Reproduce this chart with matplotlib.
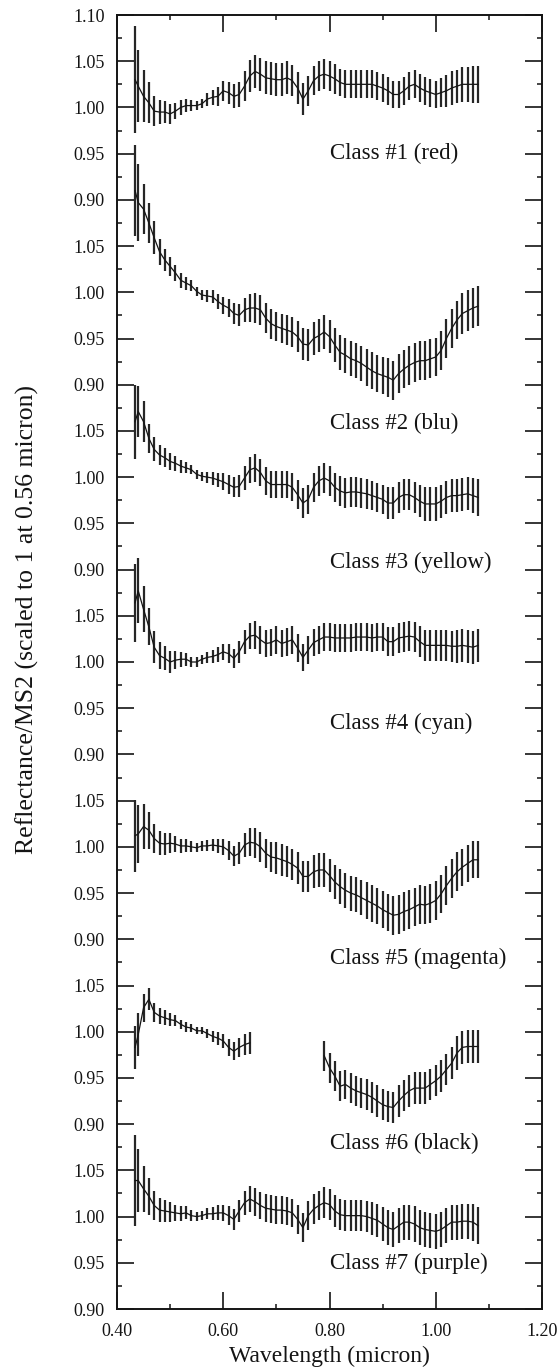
import numpy as np
import matplotlib
matplotlib.use("Agg")
import matplotlib.pyplot as plt
from matplotlib.ticker import MultipleLocator, FixedLocator, FixedFormatter, FormatStrFormatter

plt.rcParams['font.family'] = ['Liberation Serif', 'DejaVu Serif']

# ---------------- data ----------------
WAVELENGTH = [0.434, 0.44, 0.45, 0.46, 0.47, 0.48, 0.49, 0.50, 0.51, 0.52, 0.53,
              0.54, 0.55, 0.56, 0.57, 0.58, 0.59, 0.60, 0.61, 0.62, 0.63, 0.64,
              0.65, 0.66, 0.67, 0.68, 0.69, 0.70, 0.71, 0.72, 0.73, 0.74, 0.75,
              0.76, 0.77, 0.78, 0.79, 0.80, 0.81, 0.82, 0.83, 0.84, 0.85, 0.86,
              0.87, 0.88, 0.89, 0.90, 0.91, 0.92, 0.93, 0.94, 0.95, 0.96, 0.97,
              0.98, 0.99, 1.00, 1.01, 1.02, 1.03, 1.04, 1.05, 1.06, 1.07, 1.08]

CLASS1 = [1.030, 1.023, 1.012, 1.005, 0.996, 0.995, 0.995, 0.993, 0.996, 1.000, 1.002,
          1.002, 1.002, 1.004, 1.009, 1.011, 1.012, 1.018, 1.016, 1.012, 1.014, 1.023,
          1.034, 1.039, 1.036, 1.032, 1.031, 1.030, 1.030, 1.032, 1.029, 1.021, 1.009,
          1.018, 1.029, 1.034, 1.036, 1.034, 1.031, 1.027, 1.025, 1.025, 1.025, 1.025,
          1.025, 1.025, 1.023, 1.021, 1.018, 1.014, 1.014, 1.018, 1.023, 1.025, 1.021,
          1.018, 1.016, 1.014, 1.016, 1.018, 1.021, 1.023, 1.025, 1.025, 1.025, 1.025]
ERR1 = [0.058, 0.039, 0.028, 0.022, 0.016, 0.013, 0.012, 0.011, 0.009, 0.008, 0.007,
        0.006, 0.005, 0.005, 0.007, 0.008, 0.010, 0.011, 0.012, 0.013, 0.014, 0.016,
        0.017, 0.018, 0.018, 0.018, 0.018, 0.018, 0.018, 0.018, 0.017, 0.017, 0.017,
        0.016, 0.016, 0.016, 0.016, 0.016, 0.016, 0.015, 0.015, 0.015, 0.015, 0.015,
        0.015, 0.015, 0.015, 0.015, 0.015, 0.015, 0.015, 0.015, 0.015, 0.015, 0.015,
        0.015, 0.015, 0.015, 0.016, 0.017, 0.018, 0.018, 0.019, 0.019, 0.020, 0.020]

CLASS2 = [1.110, 1.097, 1.090, 1.075, 1.059, 1.044, 1.035, 1.028, 1.021, 1.013, 1.010,
          1.007, 1.001, 0.997, 0.996, 0.995, 0.990, 0.986, 0.983, 0.977, 0.975, 0.981,
          0.983, 0.983, 0.981, 0.972, 0.966, 0.963, 0.961, 0.959, 0.957, 0.952, 0.944,
          0.943, 0.950, 0.953, 0.957, 0.952, 0.943, 0.935, 0.932, 0.928, 0.926, 0.923,
          0.919, 0.915, 0.912, 0.910, 0.908, 0.905, 0.912, 0.917, 0.921, 0.924, 0.926,
          0.926, 0.928, 0.930, 0.937, 0.950, 0.961, 0.970, 0.977, 0.980, 0.983, 0.985]
ERR2 = [0.049, 0.042, 0.027, 0.022, 0.018, 0.014, 0.012, 0.010, 0.009, 0.008, 0.007,
        0.006, 0.005, 0.005, 0.006, 0.007, 0.008, 0.009, 0.010, 0.011, 0.012, 0.013,
        0.015, 0.016, 0.016, 0.016, 0.016, 0.016, 0.016, 0.016, 0.016, 0.017, 0.017,
        0.017, 0.018, 0.018, 0.018, 0.018, 0.018, 0.019, 0.019, 0.019, 0.019, 0.019,
        0.020, 0.020, 0.020, 0.020, 0.021, 0.021, 0.021, 0.021, 0.021, 0.021, 0.021,
        0.021, 0.021, 0.021, 0.021, 0.021, 0.021, 0.021, 0.022, 0.022, 0.022, 0.022]

CLASS3 = [1.060, 1.071, 1.060, 1.042, 1.030, 1.024, 1.021, 1.017, 1.015, 1.012, 1.010,
          1.008, 1.003, 1.001, 1.000, 0.999, 0.997, 0.995, 0.992, 0.989, 0.990, 0.999,
          1.008, 1.010, 1.005, 0.996, 0.992, 0.992, 0.992, 0.992, 0.989, 0.981, 0.972,
          0.976, 0.989, 0.996, 0.999, 0.996, 0.989, 0.985, 0.983, 0.984, 0.984, 0.983,
          0.982, 0.980, 0.978, 0.976, 0.972, 0.972, 0.978, 0.981, 0.981, 0.978, 0.974,
          0.971, 0.971, 0.971, 0.974, 0.978, 0.980, 0.980, 0.981, 0.982, 0.980, 0.978]
ERR3 = [0.040, 0.028, 0.022, 0.016, 0.013, 0.011, 0.010, 0.009, 0.008, 0.007, 0.006,
        0.005, 0.005, 0.005, 0.006, 0.007, 0.008, 0.009, 0.010, 0.011, 0.012, 0.013,
        0.014, 0.015, 0.015, 0.015, 0.015, 0.015, 0.015, 0.015, 0.015, 0.016, 0.016,
        0.016, 0.016, 0.016, 0.016, 0.016, 0.016, 0.016, 0.016, 0.016, 0.016, 0.016,
        0.016, 0.016, 0.016, 0.016, 0.017, 0.017, 0.017, 0.017, 0.017, 0.017, 0.017,
        0.018, 0.018, 0.018, 0.018, 0.018, 0.018, 0.018, 0.018, 0.018, 0.019, 0.020]

CLASS4 = [1.064, 1.077, 1.057, 1.038, 1.016, 1.007, 1.004, 1.000, 1.002, 1.003, 1.003,
          1.000, 1.000, 1.003, 1.005, 1.006, 1.008, 1.011, 1.009, 1.004, 1.011, 1.022,
          1.028, 1.029, 1.024, 1.020, 1.021, 1.024, 1.020, 1.022, 1.024, 1.015, 1.005,
          1.013, 1.021, 1.024, 1.027, 1.027, 1.026, 1.026, 1.026, 1.026, 1.027, 1.027,
          1.027, 1.026, 1.027, 1.027, 1.022, 1.022, 1.026, 1.027, 1.028, 1.027, 1.022,
          1.018, 1.018, 1.018, 1.018, 1.018, 1.017, 1.017, 1.018, 1.017, 1.016, 1.018]
ERR4 = [0.042, 0.035, 0.025, 0.020, 0.017, 0.015, 0.013, 0.012, 0.010, 0.008, 0.007,
        0.005, 0.005, 0.005, 0.006, 0.007, 0.008, 0.009, 0.010, 0.010, 0.012, 0.013,
        0.014, 0.015, 0.015, 0.015, 0.015, 0.015, 0.015, 0.015, 0.015, 0.015, 0.015,
        0.015, 0.015, 0.015, 0.015, 0.015, 0.015, 0.015, 0.015, 0.015, 0.015, 0.015,
        0.015, 0.015, 0.015, 0.015, 0.016, 0.016, 0.016, 0.016, 0.016, 0.016, 0.017,
        0.017, 0.017, 0.017, 0.017, 0.017, 0.017, 0.018, 0.018, 0.018, 0.018, 0.018]

CLASS5 = [1.012, 1.014, 1.022, 1.018, 1.009, 1.004, 1.003, 1.004, 1.003, 1.001, 1.001,
          1.000, 0.999, 1.001, 1.001, 1.002, 1.001, 1.000, 0.996, 0.990, 0.993, 1.002,
          1.005, 1.004, 1.000, 0.993, 0.989, 0.988, 0.986, 0.984, 0.981, 0.977, 0.968,
          0.968, 0.973, 0.975, 0.975, 0.969, 0.962, 0.957, 0.953, 0.950, 0.948, 0.945,
          0.942, 0.939, 0.936, 0.932, 0.929, 0.926, 0.927, 0.930, 0.932, 0.935, 0.938,
          0.937, 0.939, 0.942, 0.949, 0.958, 0.966, 0.973, 0.978, 0.982, 0.986, 0.986]
ERR5 = [0.039, 0.031, 0.024, 0.020, 0.016, 0.013, 0.012, 0.011, 0.009, 0.008, 0.007,
        0.006, 0.005, 0.005, 0.006, 0.007, 0.008, 0.009, 0.010, 0.011, 0.012, 0.013,
        0.015, 0.016, 0.016, 0.016, 0.016, 0.017, 0.017, 0.017, 0.017, 0.017, 0.017,
        0.017, 0.018, 0.018, 0.018, 0.018, 0.018, 0.019, 0.019, 0.019, 0.019, 0.019,
        0.020, 0.020, 0.020, 0.020, 0.020, 0.021, 0.021, 0.021, 0.021, 0.021, 0.021,
        0.021, 0.021, 0.021, 0.021, 0.021, 0.021, 0.021, 0.020, 0.020, 0.020, 0.020]

NAN = float('nan')
CLASS6 = [0.983, 0.997, 1.026, 1.035, 1.021, 1.017, 1.015, 1.013, 1.012, 1.008, 1.005,
          1.004, 1.001, 1.001, 0.998, 0.995, 0.993, 0.990, 0.983, 0.979, 0.983, 0.986,
          0.988, NAN, NAN, NAN, NAN, NAN, NAN, NAN, NAN, NAN, NAN,
          NAN, NAN, NAN, 0.974, 0.961, 0.952, 0.941, 0.943, 0.939, 0.936, 0.934,
          0.932, 0.929, 0.925, 0.921, 0.919, 0.918, 0.925, 0.931, 0.936, 0.939, 0.939,
          0.939, 0.943, 0.947, 0.952, 0.959, 0.966, 0.977, 0.983, 0.984, 0.984, 0.984]
ERR6 = [0.023, 0.023, 0.015, 0.012, 0.010, 0.009, 0.008, 0.007, 0.006, 0.005, 0.005,
        0.004, 0.004, 0.004, 0.005, 0.006, 0.007, 0.008, 0.009, 0.010, 0.010, 0.011,
        0.012, NAN, NAN, NAN, NAN, NAN, NAN, NAN, NAN, NAN, NAN,
        NAN, NAN, NAN, 0.016, 0.016, 0.016, 0.016, 0.016, 0.016, 0.016, 0.016,
        0.017, 0.017, 0.017, 0.017, 0.017, 0.017, 0.017, 0.017, 0.017, 0.017, 0.017,
        0.017, 0.017, 0.017, 0.017, 0.017, 0.017, 0.018, 0.018, 0.018, 0.018, 0.018]

CLASS7 = [1.039, 1.039, 1.030, 1.022, 1.012, 1.007, 1.006, 1.005, 1.004, 1.003, 1.004,
          1.001, 1.000, 1.001, 1.003, 1.003, 1.004, 1.004, 1.001, 0.997, 1.006, 1.015,
          1.019, 1.016, 1.012, 1.009, 1.008, 1.007, 1.007, 1.006, 1.004, 0.997, 0.988,
          1.001, 1.008, 1.012, 1.015, 1.013, 1.006, 1.002, 1.001, 1.001, 1.001, 1.001,
          1.000, 0.998, 0.996, 0.992, 0.988, 0.986, 0.990, 0.994, 0.994, 0.992, 0.988,
          0.986, 0.985, 0.984, 0.986, 0.990, 0.994, 0.994, 0.995, 0.995, 0.994, 0.990]
ERR7 = [0.049, 0.034, 0.025, 0.020, 0.016, 0.013, 0.012, 0.011, 0.009, 0.008, 0.007,
        0.006, 0.005, 0.005, 0.006, 0.007, 0.008, 0.009, 0.010, 0.011, 0.012, 0.013,
        0.014, 0.015, 0.015, 0.015, 0.015, 0.015, 0.015, 0.015, 0.015, 0.016, 0.016,
        0.016, 0.016, 0.016, 0.017, 0.017, 0.017, 0.017, 0.017, 0.017, 0.017, 0.017,
        0.017, 0.018, 0.018, 0.018, 0.019, 0.019, 0.019, 0.019, 0.019, 0.019, 0.019,
        0.019, 0.019, 0.019, 0.019, 0.019, 0.019, 0.019, 0.019, 0.019, 0.020, 0.020]

SERIES = [CLASS1, CLASS2, CLASS3, CLASS4, CLASS5, CLASS6, CLASS7]
ERRORS = [ERR1, ERR2, ERR3, ERR4, ERR5, ERR6, ERR7]
LABELS = ["Class #1 (red)", "Class #2 (blu)", "Class #3 (yellow)", "Class #4 (cyan)",
          "Class #5 (magenta)", "Class #6 (black)", "Class #7 (purple)"]
LABEL_Y = [0.950, 0.858, 0.908, 0.934, 0.879, 0.879, 0.949]   # panel-local value
PANEL_STEP = 0.2
Y_TICK_LABELS = (["1.10", "1.05", "1.00", "0.95", "0.90"]
                 + ["1.05", "1.00", "0.95", "0.90"] * 6)
X_LABEL = "Wavelength (micron)"
Y_LABEL = "Reflectance/MS2 (scaled to 1 at 0.56 micron)"

# ---------------- plot ----------------
W, H = 560, 1371
TOP, BOTTOM, LEFT, RIGHT = 15, 1309, 117, 542
fig = plt.figure(figsize=(W / 100, H / 100), dpi=100)
ax = fig.add_axes([LEFT / W, 1 - BOTTOM / H, (RIGHT - LEFT) / W, (BOTTOM - TOP) / H])

x = np.array(WAVELENGTH)
ink = '#141414'
for k, (vals, errs) in enumerate(zip(SERIES, ERRORS)):
    y = np.array(vals) - PANEL_STEP * k
    e = np.array(errs)
    m = ~np.isnan(y)
    ax.vlines(x[m], (y - e)[m], (y + e)[m], colors='#262626', linewidth=1.6)
    ax.plot(x, y, color=ink, linewidth=0.9)
    ax.text(0.80, LABEL_Y[k] - PANEL_STEP * k, LABELS[k], fontsize=16.5,
            ha='left', va='center', color=ink)

ax.set_xlim(0.4, 1.2)
ax.set_ylim(1.10 - PANEL_STEP * 7, 1.10)

ax.xaxis.set_major_locator(MultipleLocator(0.2))
ax.xaxis.set_minor_locator(MultipleLocator(0.1))
ax.xaxis.set_major_formatter(FormatStrFormatter('%.2f'))

ytick_pos = [1.10 - 0.05 * i for i in range(len(Y_TICK_LABELS))]
ax.yaxis.set_major_locator(FixedLocator(ytick_pos))
ax.yaxis.set_major_formatter(FixedFormatter(Y_TICK_LABELS))
ax.yaxis.set_minor_locator(MultipleLocator(0.025))

ax.tick_params(which='both', direction='in', top=True, right=True, color=ink)
ax.tick_params(which='major', length=12, width=1.2, labelsize=13, labelcolor=ink)
ax.tick_params(which='minor', length=3.6, width=1.1)
ax.tick_params(axis='y', which='major', pad=9)
ax.tick_params(axis='x', which='major', pad=10)
for s in ax.spines.values():
    s.set_linewidth(1.4)
    s.set_color(ink)

fig.text(0.5 * (LEFT + RIGHT) / W, 1 - 1356 / H, X_LABEL, fontsize=17,
         ha='center', va='center', color=ink)
fig.text(27 / W, 1 - 620 / H, Y_LABEL, fontsize=18.5, rotation=90,
         ha='center', va='center', color=ink)

fig.savefig("out.png", dpi=100)
